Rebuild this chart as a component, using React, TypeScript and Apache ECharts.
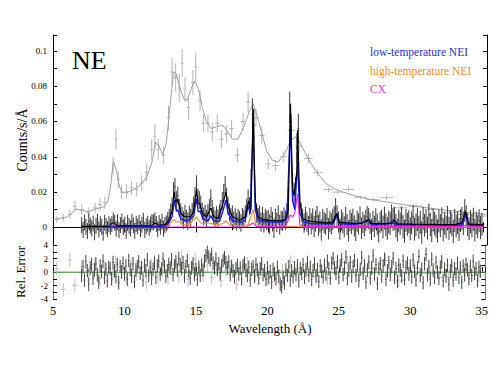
import React, { useEffect, useRef } from "react";
import * as echarts from "echarts";

// ---------- EPIC-like broadband spectrum (grey) ----------
const grayLam = [5.26,5.72,6.18,6.53,7.0,7.46,7.93,8.28,8.62,9.2,
  9.39,9.55,9.78,10.13,10.48,10.83,11.18,11.53,11.88,12.1,
  12.34,12.69,13.05,13.3,13.55,13.8,14.0,14.2,14.45,14.75,
  14.95,15.25,15.5,15.8,16.1,16.45,16.75,17.1,17.45,17.85,
  18.25,18.6,19.15,19.55,20.0,20.5,21.05,21.6,22.15,22.8,
  23.45,24.2,24.85,25.6,26.45,27.3,28.25,29.2,30.3,31.4,
  32.65,33.8,34.8];
const grayCounts = [0.0045,0.0055,0.0073,0.012,0.010,0.0083,0.011,0.013,0.014,0.035,
  0.050,0.027,0.020,0.0205,0.0224,0.0215,0.025,0.031,0.044,0.0516,
  0.044,0.041,0.062,0.088,0.085,0.079,0.093,0.078,0.068,0.082,
  0.091,0.072,0.059,0.059,0.054,0.059,0.050,0.053,0.056,0.041,
  0.060,0.071,0.062,0.052,0.036,0.035,0.040,0.055,0.046,0.039,
  0.031,0.0215,0.020,0.0215,0.017,0.0158,0.0168,0.0111,0.012,0.0102,
  0.0083,0.0073,0.0064];
const grayErr = [0.002,0.002,0.0025,0.003,0.003,0.003,0.003,0.0035,0.0035,0.005,
  0.006,0.005,0.004,0.004,0.004,0.004,0.0045,0.005,0.006,0.007,
  0.006,0.005,0.007,0.008,0.008,0.008,0.008,0.007,0.007,0.007,
  0.008,0.006,0.005,0.005,0.005,0.005,0.005,0.005,0.005,0.004,
  0.005,0.006,0.005,0.005,0.003,0.003,0.003,0.004,0.004,0.003,
  0.002,0.0015,0.0012,0.0012,0.0012,0.0012,0.0012,0.001,0.001,0.001,
  0.001,0.001,0.001];
const grayHalfWidth = [0.15,0.15,0.15,0.15,0.15,0.15,0.15,0.15,0.15,0.1,
  0.1,0.1,0.1,0.12,0.12,0.12,0.12,0.12,0.1,0.1,
  0.1,0.12,0.12,0.12,0.12,0.12,0.1,0.1,0.12,0.12,
  0.1,0.12,0.12,0.12,0.15,0.15,0.15,0.15,0.15,0.15,
  0.15,0.15,0.2,0.2,0.2,0.25,0.25,0.25,0.25,0.3,
  0.3,0.35,0.35,0.4,0.4,0.45,0.45,0.5,0.5,0.55,
  0.6,0.6,0.6];
const grayResid = [0.5,-2.6,1.8,-2.0,0.8,-0.5,1.2,-1.0,0.6,-0.4,
  1.4,-1.2,0.3,-0.8,1.0,-0.3,0.7,-1.5,0.9,1.6,
  -0.6,0.2,-0.9,0.5,1.1,-0.7,2.2,0.4,-1.1,0.8,
  1.9,0.3,-0.5,1.0,-0.8,0.6,-1.3,0.2,0.9,-1.8,
  0.7,1.2,-0.4,0.3,-1.0,-0.6,0.2,1.5,-0.2,0.4,
  -0.7,-0.9,0.6,1.4,-0.3,0.5,1.7,-1.2,0.6,-0.2,
  -0.8,0.3,-0.5];
const grayModelLam = [5.0,5.5,6.0,6.3,6.6,7.0,7.5,8.0,8.5,8.8,9.0,9.2,9.4,9.6,9.8,10.1,10.5,11.0,11.5,11.9,
  12.15,12.4,12.65,12.9,13.15,13.4,13.6,13.8,14.1,14.35,14.7,14.9,15.15,15.4,15.7,16.0,16.4,16.8,17.1,17.5,
  17.9,18.3,18.7,18.95,19.2,19.5,19.9,20.3,20.7,21.1,21.5,21.85,22.2,22.6,23.0,23.5,24.0,24.6,25.2,26.0,
  27.0,28.0,29.0,30.0,31.0,32.0,33.0,34.0,35.0,35.25];
const grayModel = [0.0045,0.005,0.006,0.008,0.0105,0.0095,0.009,0.0105,0.0115,0.014,0.022,0.0375,0.033,0.024,0.020,0.0195,0.021,0.0235,0.028,0.037,
  0.048,0.046,0.041,0.048,0.068,0.088,0.087,0.080,0.073,0.072,0.080,0.083,0.078,0.068,0.060,0.056,0.057,0.058,0.055,0.050,
  0.050,0.057,0.066,0.070,0.064,0.055,0.043,0.038,0.037,0.041,0.048,0.0515,0.048,0.042,0.036,0.030,0.025,0.022,0.020,0.018,
  0.016,0.0147,0.0134,0.0122,0.0111,0.0101,0.0092,0.0083,0.0076,0.0074];

// ---------- RGS spectrum (black), counts in units of 1e-3 counts/s/Å ----------
const rgsStart = 7.0;
const rgsBin = 0.1;
const rgsCountsMilli = [
  1.2,-1.5,2.8,0.3,-2.1,3.5,1.0,-0.6,2.2,-2.8,
  0.9,3.1,-1.2,1.8,0.2,-3.0,2.6,0.7,-1.0,1.9,
  0.4,1.8,3.9,2.6,-0.8,2.9,-1.6,1.3,3.4,0.1,
  1.6,-2.2,2.4,0.8,-0.5,3.2,1.1,-1.9,2.0,0.5,
  2.7,-0.9,1.5,3.6,-1.4,0.6,2.1,-0.3,1.7,3.0,
  2.8,4.0,1.9,-1.1,2.5,0.3,3.3,-0.7,1.4,2.2,
  3.8,5.5,8.5,12.0,20.5,23.0,15.5,18.0,11.0,8.5,
  6.5,4.2,7.8,5.0,3.6,7.2,5.5,8.8,12.5,18.0,
  24.5,17.0,15.5,13.0,9.0,6.2,7.8,4.8,8.2,11.0,
  16.5,10.5,6.5,4.5,7.0,5.2,8.0,10.5,15.0,19.5,
  24.0,17.5,12.0,8.5,6.0,7.5,4.0,5.8,3.2,5.5,
  4.2,2.5,6.0,5.0,7.5,11.0,16.5,12.0,24.0,64.0,
  58.0,14.0,8.0,5.5,7.0,3.0,6.2,2.5,5.0,3.8,
  4.5,1.8,6.0,3.2,-0.5,5.2,2.8,7.0,1.5,4.0,
  3.5,5.8,4.0,8.0,14.0,68.0,55.0,24.0,19.0,22.0,
  45.0,56.0,16.0,8.5,5.0,2.5,6.0,3.0,1.0,5.5,
  2.0,4.8,0.5,3.6,6.2,1.2,3.0,-1.5,4.4,2.6,
  1.8,5.0,-0.8,3.2,2.0,4.5,6.0,10.5,6.5,3.0,
  -1.0,4.2,2.5,0.3,5.5,1.6,-2.0,3.8,2.2,4.6,
  0.8,-1.8,3.5,2.0,5.8,-0.5,2.8,1.0,4.0,6.0,
  5.0,2.4,-1.2,3.4,0.6,4.8,1.8,-2.5,2.9,3.8,
  0.2,5.2,1.5,-0.6,3.0,2.2,6.5,4.5,5.2,1.0,
  -1.5,3.6,2.0,5.4,0.4,-2.2,4.0,1.8,3.2,-0.8,
  2.6,6.2,-1.0,1.4,4.4,0.0,2.8,-2.8,5.0,1.2,
  3.4,-0.4,7.0,1.6,-1.8,4.2,2.2,0.6,-2.0,3.6,
  1.0,4.8,-1.4,2.4,0.2,5.6,-0.6,3.0,1.4,-2.4,
  4.0,0.8,2.6,-1.2,3.8,5.0,2.0,9.5,6.0,1.5,
  -0.8,3.2,1.0,4.6,-1.6,2.4,0.4,3.8,-0.2,1.8];
const rgsErrEdges = [7.0, 13.0, 18.8, 19.1, 21.4, 21.7, 22.0, 22.2, 23.0, 28.0];
const rgsErrMilli = [4.5, 5.0, 9.0, 5.5, 9.0, 6.5, 8.5, 5.5, 6.0, 6.5];
const rgsResid = [
  -0.5,0.8,-1.2,1.5,0.2,-1.8,0.6,1.1,-0.9,0.3,
  1.2,-0.4,-1.5,0.9,0.1,1.6,-0.8,0.4,-1.3,0.7,
  0.5,-1.0,1.4,0.2,-0.7,1.1,-1.6,0.8,0.0,1.3,
  -0.3,0.9,-1.1,1.7,0.4,-0.6,1.2,-1.4,0.3,0.8,
  1.5,-0.2,0.6,-1.2,1.0,0.2,1.8,-0.5,0.7,-0.9,
  0.4,1.3,-0.8,0.9,1.6,-0.3,0.5,1.9,0.8,-0.6,
  0.2,1.1,0.6,1.8,-0.4,0.9,1.5,0.3,2.0,1.0,
  0.5,1.4,-0.6,0.8,1.7,0.2,-0.9,0.6,1.2,-0.3,
  0.4,-1.1,0.7,-0.5,1.0,0.3,1.6,2.4,2.9,2.2,
  1.8,2.6,1.3,0.7,1.9,0.4,1.2,-0.2,0.9,1.7,
  2.1,1.4,0.6,1.5,-0.4,0.8,0.2,-0.7,0.5,1.0,
  -0.3,0.6,-1.0,0.9,1.3,0.2,-0.5,0.7,-1.2,0.4,
  0.8,-0.6,1.1,0.3,-0.9,0.5,1.2,-0.4,0.2,-1.1,
  0.6,-0.8,0.1,-1.5,0.4,-0.3,-1.0,0.7,-0.6,-1.8,
  -2.2,-0.9,-1.6,0.3,-0.5,0.8,-1.2,0.2,-0.7,0.6,
  -0.4,0.9,-1.3,0.5,-0.2,1.1,-0.8,0.3,1.4,-0.5,
  0.7,-1.1,0.2,1.2,-0.6,0.4,-1.4,0.9,0.1,-0.7,
  1.0,-0.3,1.6,0.5,-0.9,1.3,2.0,0.6,-0.2,1.5,
  -0.8,0.9,1.8,-0.4,0.6,2.2,-1.0,0.3,1.4,-0.6,
  0.8,1.7,-0.5,1.0,-1.3,0.4,2.1,-0.2,0.9,-1.5,
  0.3,1.5,-0.9,0.6,2.4,-0.3,1.1,-1.7,0.5,1.2,
  -0.6,0.9,1.9,-1.1,0.2,1.4,-0.4,0.8,2.0,-0.8,
  0.5,-1.4,1.0,0.3,-0.6,1.6,-1.0,0.7,1.3,-0.3,
  0.9,-0.7,1.8,0.1,-1.2,0.6,2.3,-0.5,0.4,-1.6,
  1.2,2.6,-0.4,0.8,-1.1,1.9,0.3,-0.8,1.4,0.0,
  -0.9,0.7,1.5,-1.3,0.4,-0.6,1.0,-1.8,0.2,0.9,
  -1.2,0.5,-0.3,1.3,-0.8,0.6,-1.5,0.9,-0.4,1.1,
  0.3,-1.0,0.8,-0.5,1.6,-0.2,0.5,-1.3,0.7,0.1];

// ---------- model components (units of 1e-3) ----------
const totalLam = [7.0,8.0,8.9,9.2,9.5,11.9,12.1,12.4,12.8,13.0,13.3,13.45,13.55,13.7,13.9,14.2,14.6,14.8,15.0,15.1,
  15.26,15.4,15.7,16.0,16.2,16.5,16.8,17.05,17.2,17.5,18.0,18.4,18.63,18.8,18.95,19.1,19.3,19.6,20.0,20.5,
  20.9,21.2,21.4,21.55,21.7,21.8,22.0,22.05,22.2,22.4,22.8,23.5,24.2,24.5,24.78,24.95,25.5,26.0,26.5,26.99,
  27.2,28.0,28.5,28.79,29.0,30.0,31.0,32.0,33.0,33.5,33.74,33.95,34.5,35.0];
const totalMilli = [0.5,0.6,0.7,2.8,0.8,1.0,2.5,1.2,1.5,3.0,9.0,20.0,14.0,16.0,8.0,6.0,6.0,9.0,21.0,14.0,
  13.0,8.0,6.0,11.0,6.0,5.0,12.0,20.0,12.0,6.0,4.0,6.0,15.0,10.0,67.0,15.0,6.0,4.5,4.0,3.8,
  3.8,4.5,10.0,70.0,22.0,18.0,32.0,55.0,15.0,5.0,3.5,3.0,2.5,3.0,8.0,3.0,2.5,2.2,2.2,4.5,
  2.2,2.0,2.2,4.0,2.0,1.8,1.7,1.6,1.5,2.5,9.0,2.0,1.5,1.5];
const lowTLam = [7.0,9.0,12.0,12.8,13.0,13.3,13.47,13.6,13.7,13.9,14.3,14.8,15.0,15.12,15.26,15.45,15.8,16.0,16.2,16.6,
  16.8,17.05,17.2,17.5,18.0,18.4,18.6,18.75,18.95,19.1,19.3,20.0,21.0,21.3,21.55,21.7,21.85,22.05,22.2,22.5,
  23.0,24.5,24.78,25.0,26.0,26.99,27.2,28.79,29.0,33.5,33.74,34.0,35.0];
const lowTMilli = [0.3,0.4,0.5,0.8,2.0,6.0,15.5,9.0,10.0,5.0,3.5,6.0,16.5,9.0,9.0,5.0,3.5,6.5,3.5,3.5,
  8.0,15.5,8.0,4.0,3.0,4.0,12.0,8.0,57.0,10.0,4.0,3.0,3.0,5.0,58.0,15.0,10.0,37.0,8.0,3.0,
  2.0,2.0,6.5,2.0,1.6,3.5,1.5,2.5,1.4,1.3,7.0,1.3,1.2];
const highTLam = [7.0,8.9,9.2,9.4,10.5,11.9,12.15,12.4,13.0,13.45,13.6,13.75,14.0,14.5,15.0,15.2,15.4,16.0,16.3,16.8,
  17.05,17.3,18.0,18.6,18.95,19.15,19.5,21.0,21.6,22.1,23.0,35.0];
const highTMilli = [0.3,0.4,2.6,0.6,0.5,0.8,2.2,0.8,1.2,4.5,3.0,3.5,1.5,1.5,6.0,3.5,2.0,2.5,1.2,2.0,
  3.6,1.5,0.8,1.5,10.0,1.0,0.5,0.3,0.6,0.4,0.2,0.1];
const cxLam = [7.0,18.5,18.95,19.2,21.2,21.4,21.55,21.7,21.85,22.05,22.2,22.5,33.5,33.74,34.0,35.0];
const cxMilli = [0.2,0.3,2.5,0.4,0.5,4.0,7.0,6.0,8.0,19.0,1.5,0.4,0.4,1.2,0.4,0.4];

const xTicks = [5, 10, 15, 20, 25, 30, 35];
const countTicks = [0, 0.02, 0.04, 0.06, 0.08, 0.1];
const residTicks = [-4, -2, 0, 2, 4];
const legendItems = ["low-temperature NEI", "high-temperature NEI", "CX"];

const FONT = "Liberation Serif";
const MILLI = 0.001;

function pairs(xs: number[], ys: number[], scale = 1) {
  return xs.map((x, i) => [x, ys[i] * scale]);
}

function rgsErrAt(lam: number) {
  let e = rgsErrMilli[0];
  for (let k = 0; k < rgsErrEdges.length; k++) if (lam >= rgsErrEdges[k] - 1e-9) e = rgsErrMilli[k];
  return e;
}

function errorBars(color: string, lw: number) {
  return (params: any, api: any) => {
    const x = api.value(0), y = api.value(1), xe = api.value(2), ye = api.value(3);
    const l = api.coord([x - xe, y]);
    const r = api.coord([x + xe, y]);
    const t = api.coord([x, y + ye]);
    const b = api.coord([x, y - ye]);
    const style = { stroke: color, lineWidth: lw };
    return {
      type: "group",
      children: [
        { type: "line", shape: { x1: l[0], y1: l[1], x2: r[0], y2: r[1] }, style },
        { type: "line", shape: { x1: t[0], y1: t[1], x2: b[0], y2: b[1] }, style },
      ],
    };
  };
}

function near(v: number, list: number[]) {
  return list.some((t) => Math.abs(t - v) < 1e-6);
}

export default function App() {
  const ref = useRef<HTMLDivElement>(null);
  useEffect(() => {
    if (!ref.current) return;
    const chart = echarts.init(ref.current, null, { renderer: "svg" });

    const rgsLam = rgsCountsMilli.map((_, i) => +(rgsStart + i * rgsBin).toFixed(2));
    const rgsData = rgsCountsMilli.map((v, i) => [rgsLam[i], v * MILLI, rgsBin / 2, rgsErrAt(rgsLam[i]) * MILLI]);
    const rgsResidData = rgsResid.map((v, i) => [rgsLam[i], v, rgsBin / 2, 1]);
    const grayData = grayLam.map((x, i) => [x, grayCounts[i], grayHalfWidth[i], grayErr[i]]);
    const grayResidData = grayLam.map((x, i) => [x, grayResid[i], grayHalfWidth[i], 1]);

    const xBase = {
      type: "value", min: 5, max: 35.25, interval: 5,
      axisLine: { show: true, lineStyle: { color: "#000", width: 1 } },
      axisTick: { show: true, inside: true, length: 5, lineStyle: { color: "#000" } },
      minorTick: { show: true, splitNumber: 2, length: 3, lineStyle: { color: "#000" } },
      splitLine: { show: false },
      axisLabel: { show: false },
    };
    const yTopBase = {
      type: "value", min: -0.01, max: 0.109, interval: 0.01,
      axisLine: { show: true, lineStyle: { color: "#000" } },
      axisTick: { show: true, inside: true, length: 4, lineStyle: { color: "#000" } },
      splitLine: { show: false },
      gridIndex: 0,
    };
    const yBotBase = {
      type: "value", min: -4, max: 4, interval: 1,
      axisLine: { show: true, lineStyle: { color: "#000" } },
      axisTick: { show: true, inside: true, length: 4, lineStyle: { color: "#000" } },
      splitLine: { show: false },
      gridIndex: 1,
    };

    const line = (data: any, color: string, width: number, z: number, xi = 0, yi = 0) => ({
      type: "line", data, xAxisIndex: xi, yAxisIndex: yi, showSymbol: false, symbol: "none",
      lineStyle: { color, width }, z, silent: true,
    });
    const bars = (data: any, color: string, lw: number, z: number, xi = 0, yi = 0) => ({
      type: "custom", data, xAxisIndex: xi, yAxisIndex: yi, clip: true, z, silent: true,
      encode: { x: 0, y: 1 }, renderItem: errorBars(color, lw),
    });

    const legendColors = ["#2b2bff", "#ff8a1f", "#ff33cc"];
    const legendY = [52, 71, 89];

    chart.setOption({
      animation: false,
      backgroundColor: "#fff",
      textStyle: { fontFamily: FONT },
      grid: [
        { left: 53, right: 4, top: 35, height: 210 },
        { left: 53, right: 4, top: 245, height: 54 },
      ],
      xAxis: [
        { ...xBase, gridIndex: 0, position: "bottom" },
        { ...xBase, gridIndex: 0, position: "top" },
        {
          ...xBase, gridIndex: 1, position: "bottom",
          axisLine: { show: true, lineStyle: { color: "#777" } },
          axisLabel: {
            show: true, fontSize: 12.5, color: "#000", fontFamily: FONT, margin: 5,
            formatter: (v: number) => (near(v, xTicks) ? String(Math.round(v)) : ""),
          },
        },
      ],
      yAxis: [
        {
          ...yTopBase, position: "left",
          axisLabel: {
            show: true, fontSize: 9, color: "#000", fontFamily: FONT, margin: 6,
            formatter: (v: number) => (near(v, countTicks) ? String(+v.toFixed(2)) : ""),
          },
        },
        { ...yTopBase, position: "right", axisLabel: { show: false } },
        {
          ...yBotBase, position: "left",
          axisLine: { show: true, lineStyle: { color: "#777" } },
          axisLabel: {
            show: true, fontSize: 9, color: "#000", fontFamily: FONT, margin: 5,
            formatter: (v: number) => (near(v, residTicks) ? String(Math.round(v)) : ""),
          },
        },
        { ...yBotBase, position: "right", axisLine: { show: true, lineStyle: { color: "#777" } }, axisLabel: { show: false } },
      ],
      series: [
        bars(grayData, "#b4b4b4", 1, 1),
        line(pairs(grayModelLam, grayModel), "#a0a0a0", 1, 2),
        bars(rgsData, "#3c3c3c", 1, 3),
        line(pairs(highTLam, highTMilli, MILLI), "#ff8a1f", 1.1, 4),
        line(pairs(cxLam, cxMilli, MILLI), "#ff1fe0", 1.1, 5),
        line(pairs(lowTLam, lowTMilli, MILLI), "#1a1aff", 1.4, 6),
        line(pairs(totalLam, totalMilli, MILLI), "#000000", 1.2, 7),
        bars(grayResidData, "#c2c2c2", 1, 1, 2, 2),
        bars(rgsResidData, "#454545", 1, 3, 2, 2),
        line([[5, 0], [35.25, 0]], "#5fcf5f", 1, 2, 2, 2),
      ],
      graphic: [
        { type: "text", x: 72, y: 60, style: { text: "NE", fontSize: 26, fontFamily: FONT, fill: "#000", verticalAlign: "middle" } },
        ...legendItems.map((t, i) => ({
          type: "text", x: 370, y: legendY[i],
          style: { text: t, fontSize: 11.5, fontFamily: FONT, fill: legendColors[i], verticalAlign: "middle" },
        })),
        { type: "text", x: 22, y: 140, rotation: Math.PI / 2, style: { text: "Counts/s/Å", fontSize: 14, fontFamily: FONT, fill: "#000", align: "center", verticalAlign: "middle" } },
        { type: "text", x: 20, y: 272, rotation: Math.PI / 2, style: { text: "Rel. Error", fontSize: 13, fontFamily: FONT, fill: "#000", align: "center", verticalAlign: "middle" } },
        { type: "text", x: 270, y: 328, style: { text: "Wavelength (Å)", fontSize: 13, fontFamily: FONT, fill: "#000", align: "center", verticalAlign: "middle" } },
      ],
    });
    return () => chart.dispose();
  }, []);
  return <div ref={ref} style={{ width: 491, height: 368, position: "absolute", left: 0, top: 0 }} />;
}
